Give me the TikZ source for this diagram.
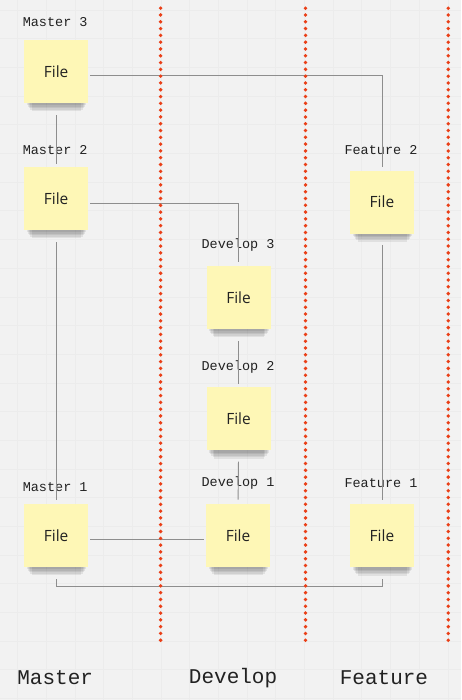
\documentclass[tikz,border=0pt]{standalone}
\usepackage{fontspec}
\setmainfont{Open Sans}
\newfontfamily\tagfont{Liberation Mono}
\usetikzlibrary{positioning, backgrounds}

\definecolor{paper}{HTML}{F2F2F2}
\definecolor{gridgray}{HTML}{ECECEC}
\definecolor{linkgray}{HTML}{8E8E8E}
\definecolor{dotred}{HTML}{EA3F17}
\definecolor{noteyellow}{HTML}{FEF7B6}
\definecolor{inkgray}{HTML}{222222}

\pgfdeclarelayer{paperlayer}
\pgfsetlayers{paperlayer,background,main}

\tikzset{
    note/.style={fill=noteyellow, minimum width=64pt, minimum height=63pt, inner sep=0pt,
        font=\fontsize{15.5}{15.5}\selectfont, text=inkgray},
    tag/.style={font=\tagfont\fontsize{13.5}{13.5}\selectfont, text=inkgray, inner sep=0pt},
    lane/.style={font=\tagfont\fontsize{21}{21}\selectfont, text=inkgray, inner sep=0pt},
    link/.style={draw=linkgray, line width=0.9pt},
    shade/.style={fill=black, opacity=0.07},
    divider/.style={draw=dotred, line width=3.8pt, line cap=round, dash pattern=on 0pt off 6.8pt}
}

\begin{document}
\begin{tikzpicture}[x=1pt, y=-1pt, node distance=0pt]
    % paper and grid
    \begin{pgfonlayer}{paperlayer}
        \fill[paper] (0,0) rectangle (461,700);
        \foreach \gx in {17.3,46,...,461} \draw[gridgray, line width=0.4pt] (\gx,0) -- (\gx,700);
        \foreach \gy in {9.7,38.4,...,700} \draw[gridgray, line width=0.4pt] (0,\gy) -- (461,\gy);
    \end{pgfonlayer}
    \useasboundingbox (0,0) rectangle (461,700);

    % notes
    \node[note] (M3) at (56,71.5) {File};
    \node[note] (M2) at (56,198.5) {File};
    \node[note] (M1) at (56,535.5) {File};
    \node[note] (D3) at (238.5,297.5) {File};
    \node[note] (D2) at (238.5,419) {File};
    \node[note] (D1) at (238,535.5) {File};
    \node[note] (F2) at (382,202) {File};
    \node[note] (F1) at (382,536) {File};

    % shadows under the notes
    \begin{pgfonlayer}{background}
        \foreach \n in {M3,M2,M1,D3,D2,D1,F2,F1}
            \foreach \d/\i in {2/3,3.5/4,5/5,6.5/6.5,8/8}
                \fill[shade] ([xshift=\i pt, yshift=2pt]\n.south west) rectangle ([xshift=-\i pt+1pt, yshift=-\d pt]\n.south east);
    \end{pgfonlayer}

    % tags
    \node[tag] (tM3) at (55,22) {Master 3};
    \node[tag] (tM2) at (55,150) {Master 2};
    \node[tag] (tM1) at (55,487) {Master 1};
    \node[tag] (tD3) at (238,245) {Develop 3};
    \node[tag] (tD2) at (238,367) {Develop 2};
    \node[tag] (tD1) at (238,483) {Develop 1};
    \node[tag] (tF2) at (381,150) {Feature 2};
    \node[tag] (tF1) at (381,483) {Feature 1};

    % lanes
    \node[lane] (master) at (55,678) {Master};
    \node[lane] (develop) at (233,678) {Develop};
    \node[lane] (feature) at (384,678) {Feature};

    % links
    \coordinate (base) at (0,587);
    \draw[link, shorten <=2pt, shorten >=3pt] ([yshift=-3.5pt]M3.east) -| (F2.north);
    \draw[link, shorten <=12pt, shorten >=3pt] (M3.south) -- (M2.north);
    \draw[link, shorten <=2pt, shorten >=4pt] ([yshift=-5pt]M2.east) -| (D3.north);
    \draw[link, shorten <=12pt, shorten >=3pt] (D3.south) -- (D2.north);
    \draw[link, shorten <=11pt, shorten >=4pt] (D2.south) -- (D1.north);
    \draw[link, shorten <=12pt, shorten >=4pt] (M2.south) -- (M1.north);
    \draw[link, shorten <=11pt, shorten >=4pt] (F2.south) -- (F1.north);
    \draw[link, shorten <=2pt, shorten >=2pt] ([yshift=-4.5pt]M1.east) -- ([yshift=-4.5pt]D1.west);
    \draw[link, shorten <=12pt, shorten >=11pt] (M1.south) -- (M1.south |- base) -- (F1.south |- base) -- (F1.south);

    % lane dividers
    \draw[divider] (160.5,8) -- (160.5,646);
    \draw[divider] (305.5,8) -- (305.5,643);
    \draw[divider] (448.3,8) -- (448.3,643);
\end{tikzpicture}
\end{document}
